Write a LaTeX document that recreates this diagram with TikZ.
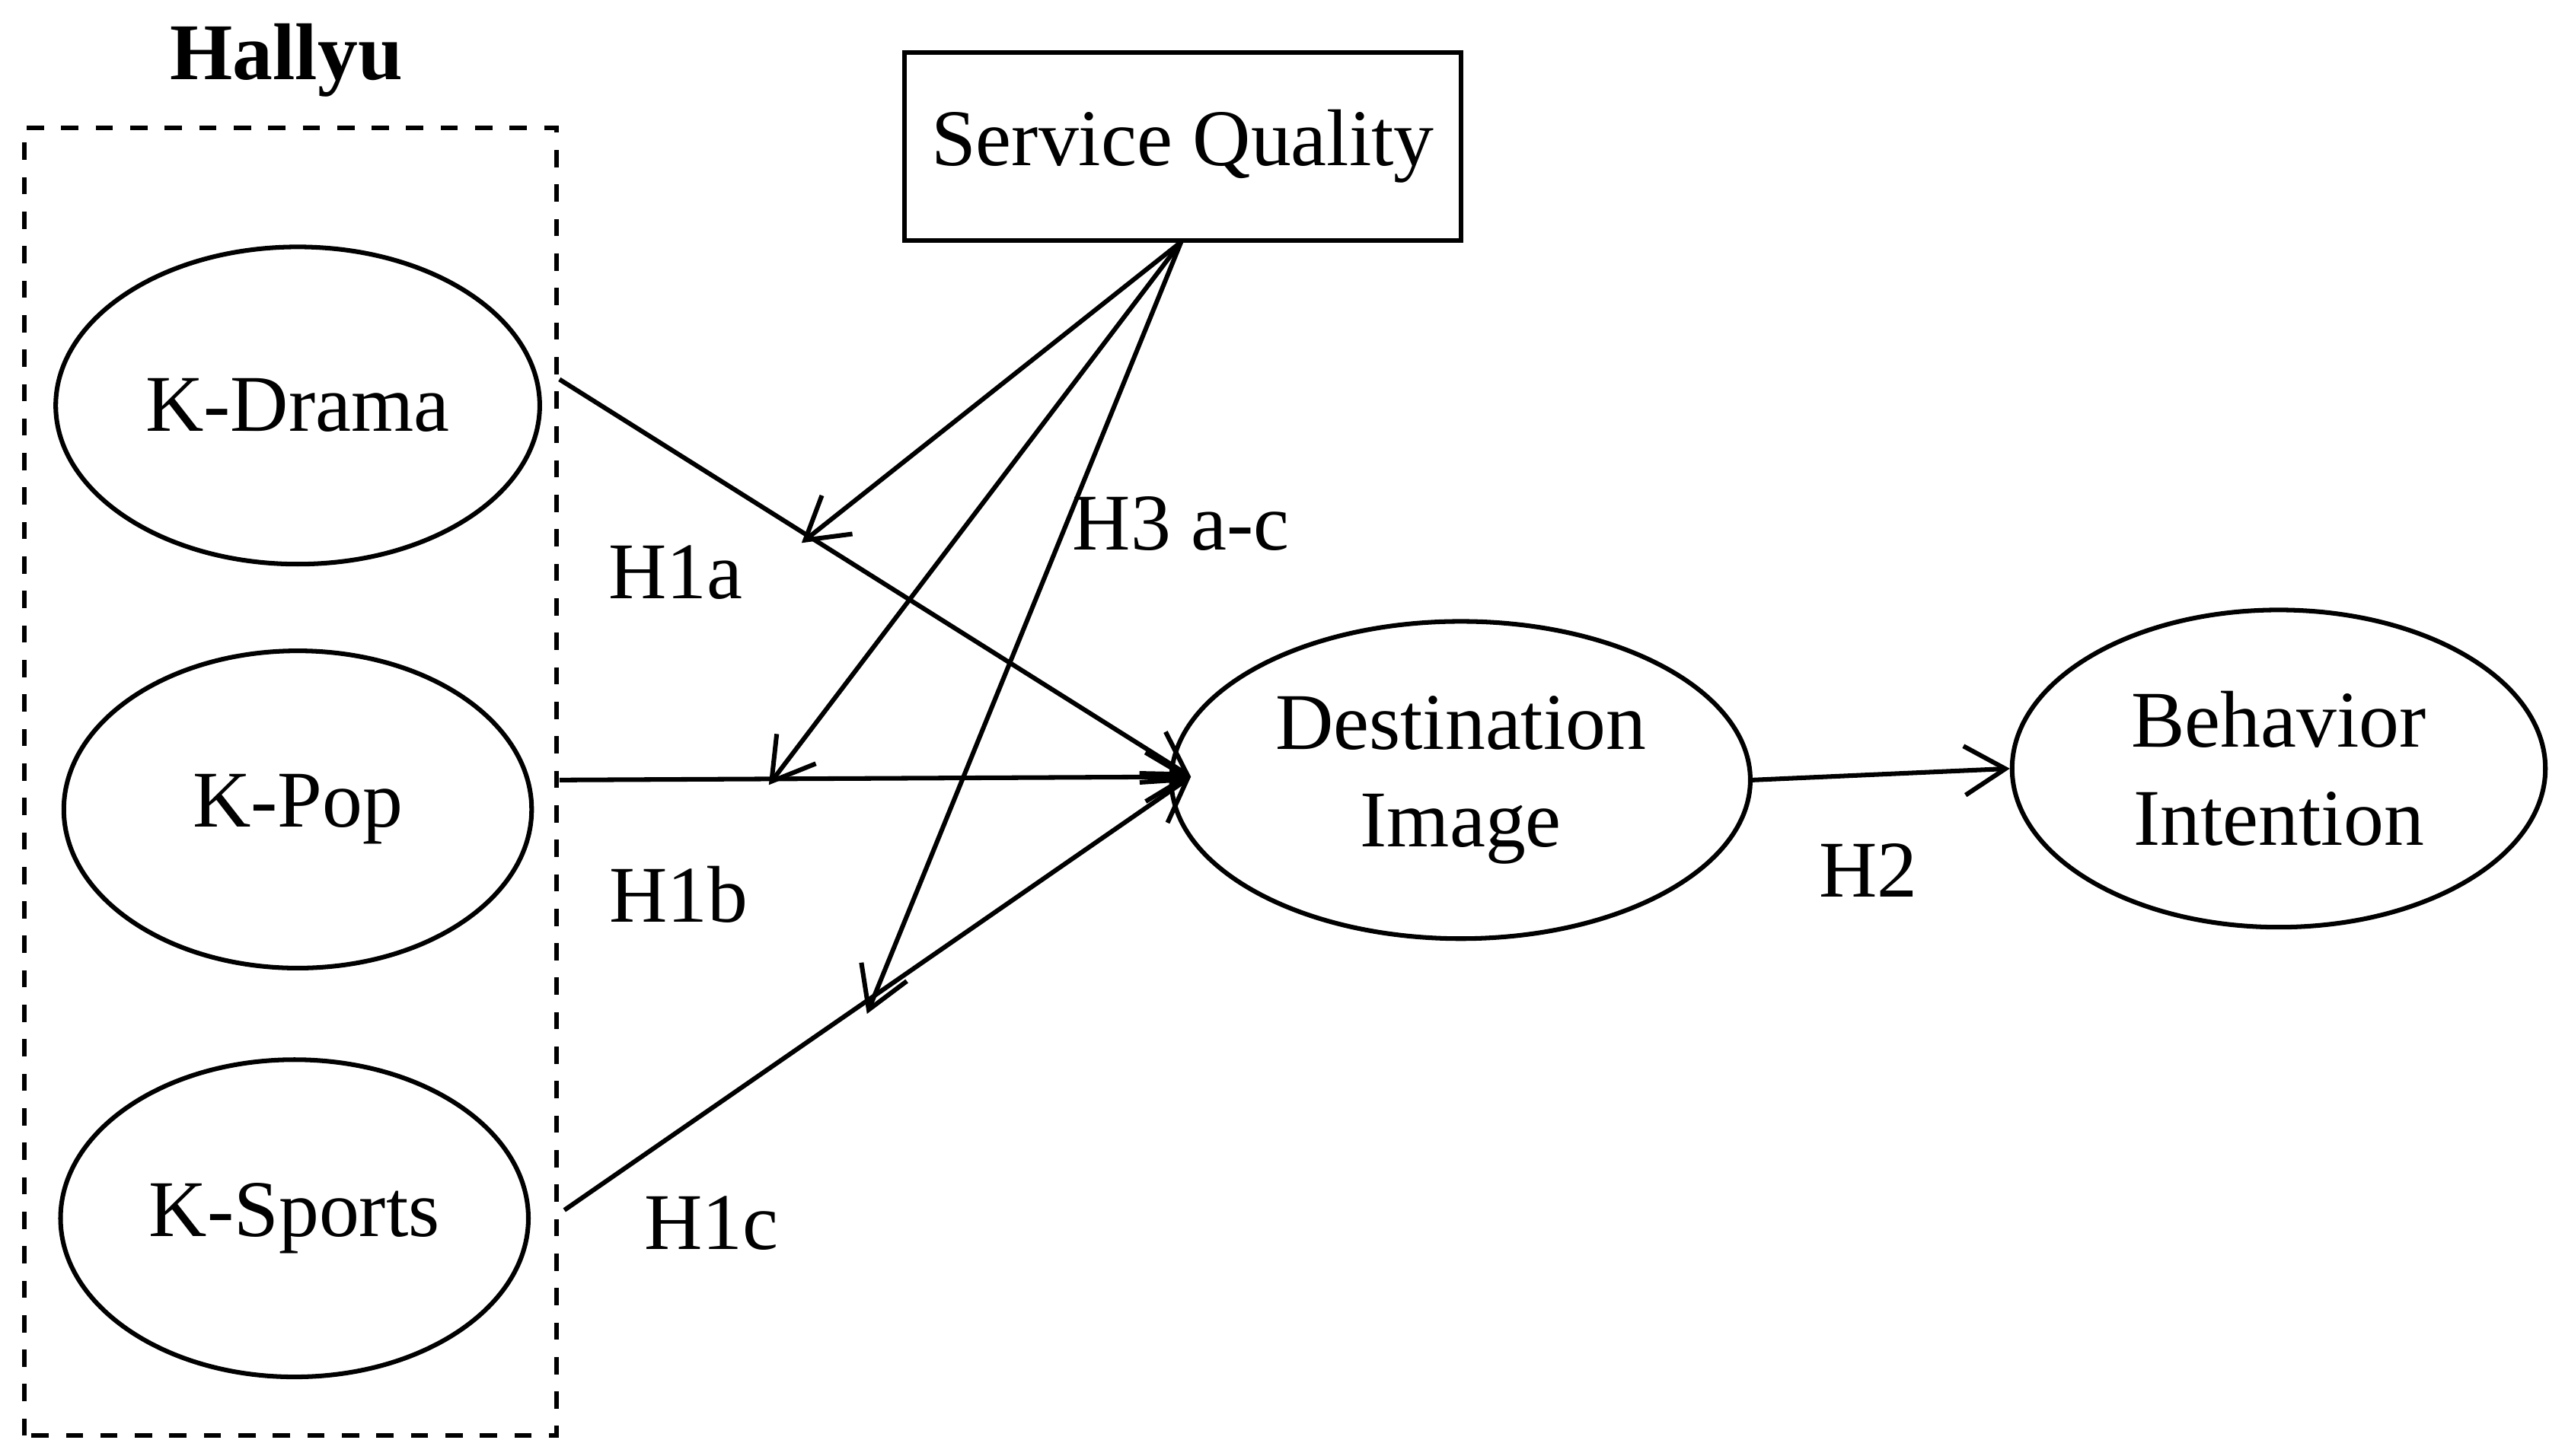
\documentclass[tikz,border=0pt]{standalone}
\usepackage{fontspec}
\setmainfont{Liberation Serif}
\usetikzlibrary{arrows.meta,shapes.geometric}
\tikzset{
  construct/.style={draw, thick, ellipse, minimum width=2.86cm, minimum height=1.94cm, align=center, font=\fontsize{14}{17}\selectfont},
  path arrow/.style={thick, -{Straight Barb[length=2.5mm,width=3mm]}},
  hyp/.style={font=\fontsize{14}{17}\selectfont}
}
\begin{document}
\begin{tikzpicture}
\useasboundingbox (0,0) rectangle (15.68,8.90);
% Hallyu group
\node[font=\bfseries\fontsize{14}{17}\selectfont] (hallyu) at (1.75,8.53) {Hallyu};
\draw[thick, dashed] (0.15,0.12) rectangle (3.40,8.12);
\node[construct] (drama) at (1.82,6.42) {K-Drama};
\node[construct] (pop) at (1.82,3.95) {K-Pop};
\node[construct] (sports) at (1.80,1.45) {K-Sports};
% other constructs
\node[draw, thick, minimum width=3.40cm, minimum height=1.15cm, font=\fontsize{14}{17}\selectfont] (sq) at (7.23,8.005) {Service Quality};
\node[construct, minimum width=3.26cm] (di) at (8.93,4.13) {Destination\\Image};
\node[construct, minimum width=3.26cm] (bi) at (13.93,4.20) {Behavior\\Intention};
% anchor points
\coordinate (drama out) at (3.42,6.58);
\coordinate (pop out) at (3.42,4.13);
\coordinate (sports out) at (3.45,1.50);
\coordinate (di in) at (7.28,4.15);
\coordinate (sq out) at (7.22,7.42);
\coordinate (m1) at (4.90,5.58);
\coordinate (m2) at (4.70,4.10);
\coordinate (m3) at (5.30,2.70);
% paths
\draw[path arrow] (drama out) -- (di in);
\draw[path arrow] (pop out) -- (di in);
\draw[path arrow] (sports out) -- (di in);
\draw[path arrow] (sq out) -- (m1);
\draw[path arrow] (sq out) -- (m2);
\draw[path arrow] (sq out) -- (m3);
\draw[path arrow] (di.east) -- (bi.west);
% labels
\node[hyp] at (4.13,5.40) {H1a};
\node[hyp] at (4.15,3.43) {H1b};
\node[hyp] at (4.35,1.42) {H1c};
\node[hyp] at (7.22,5.70) {H3 a-c};
\node[hyp] at (11.42,3.58) {H2};
\end{tikzpicture}
\end{document}
